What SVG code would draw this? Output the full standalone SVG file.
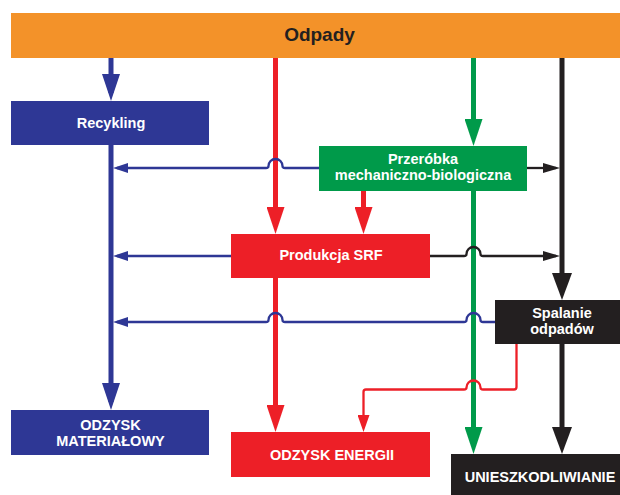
<svg xmlns="http://www.w3.org/2000/svg" width="620" height="495" viewBox="0 0 620 495">
<style>
.box text, text{font-family:"Liberation Sans",Arial,sans-serif;font-weight:bold;text-anchor:middle}
.lbl{font-size:14.5px;fill:#ffffff}
.title{font-size:19px;fill:#231f20}
.thick{fill:none;stroke-width:5;stroke-linecap:butt}
.thin{fill:none;stroke-width:2.3;stroke-linejoin:round}
.b{stroke:#2e3795}.r{stroke:#ed1f27}.g{stroke:#009a4a}.k{stroke:#231f20}
</style>
<defs>
<marker id="bigB" viewBox="0 0 27 18" markerWidth="27" markerHeight="18" refX="19" refY="9" orient="auto" markerUnits="userSpaceOnUse"><path d="M0,0 L27,9 L0,18 z" fill="#2e3795"/></marker>
<marker id="bigR" viewBox="0 0 27 18" markerWidth="27" markerHeight="18" refX="19" refY="9" orient="auto" markerUnits="userSpaceOnUse"><path d="M0,0 L27,9 L0,18 z" fill="#ed1f27"/></marker>
<marker id="bigG" viewBox="0 0 27 18" markerWidth="27" markerHeight="18" refX="19" refY="9" orient="auto" markerUnits="userSpaceOnUse"><path d="M0,0 L27,9 L0,18 z" fill="#009a4a"/></marker>
<marker id="bigK" viewBox="0 0 27 20" markerWidth="27" markerHeight="20" refX="19" refY="10" orient="auto" markerUnits="userSpaceOnUse"><path d="M0,0 L27,10 L0,20 z" fill="#231f20"/></marker>
<marker id="smB" viewBox="0 0 15 10" markerWidth="15" markerHeight="10" refX="11" refY="5" orient="auto" markerUnits="userSpaceOnUse"><path d="M0,0 L15,5 L0,10 z" fill="#2e3795"/></marker>
<marker id="smK" viewBox="0 0 17 10" markerWidth="17" markerHeight="10" refX="13" refY="5" orient="auto" markerUnits="userSpaceOnUse"><path d="M0,0 L17,5 L0,10 z" fill="#231f20"/></marker>
<marker id="smR" viewBox="0 0 17 12" markerWidth="17" markerHeight="12" refX="13" refY="6" orient="auto" markerUnits="userSpaceOnUse"><path d="M0,0 L17,6 L0,12 z" fill="#ed1f27"/></marker>
</defs>

<g id="connectors">
  <!-- vertical flows -->
  <path class="thick b" d="M111,58 V93" marker-end="url(#bigB)"/>
  <path class="thick b" d="M111,145 V402" marker-end="url(#bigB)"/>
  <path class="thick r" d="M275.5,58 V226" marker-end="url(#bigR)"/>
  <path class="thick r" d="M275.5,278 V424" marker-end="url(#bigR)"/>
  <path class="thick r" d="M363.5,191 V226" marker-end="url(#bigR)"/>
  <path class="thick g" d="M473.5,58 V138" marker-end="url(#bigG)"/>
  <path class="thick g" d="M473.5,191 V446" marker-end="url(#bigG)"/>
  <path class="thick k" d="M562,58 V292" marker-end="url(#bigK)"/>
  <path class="thick k" d="M562,344 V446" marker-end="url(#bigK)"/>
  <!-- horizontal flows -->
  <path class="thin b" d="M319,168 H285 Q282.5,168 282.5,166 A7,7 0 0 0 268.5,166 Q268.5,168 266,168 H117" marker-end="url(#smB)"/>
  <path class="thin k" d="M527,168 H556" marker-end="url(#smK)"/>
  <path class="thin b" d="M231,256 H117" marker-end="url(#smB)"/>
  <path class="thin k" d="M430,256 H464 Q466.5,256 466.5,254 A7,7 0 0 1 480.5,254 Q480.5,256 483,256 H556" marker-end="url(#smK)"/>
  <path class="thin b" d="M495,322 H483 Q480.5,322 480.5,320 A7,7 0 0 0 466.5,320 Q466.5,322 464,322 H285 Q282.5,322 282.5,320 A7,7 0 0 0 268.5,320 Q268.5,322 266,322 H117" marker-end="url(#smB)"/>
  <path class="thin r" d="M516.5,344 V387 Q516.5,389.5 514,389.5 H483 Q480.5,389.5 480.5,387.5 A7,7 0 0 0 466.5,387.5 Q466.5,389.5 464,389.5 H366 Q363.5,389.5 363.5,392 V428" marker-end="url(#smR)"/>
</g>

<g id="odpady">
  <rect x="11" y="13" width="609" height="45" fill="#f39229"/>
  <text class="title" x="319.5" y="41">Odpady</text>
</g>
<g id="recykling">
  <rect x="11" y="101" width="198" height="44" fill="#2e3795"/>
  <text class="lbl" x="111" y="127.5">Recykling</text>
</g>
<g id="przerobka">
  <rect x="319" y="146" width="208" height="45" fill="#009a4a"/>
  <text class="lbl" x="423" y="164">Przeróbka</text>
  <text class="lbl" x="423" y="179.5">mechaniczno-biologiczna</text>
</g>
<g id="produkcja">
  <rect x="231" y="234" width="199" height="44" fill="#ed1f27"/>
  <text class="lbl" x="331" y="260">Produkcja SRF</text>
</g>
<g id="spalanie">
  <rect x="495" y="300" width="125" height="44" fill="#231f20"/>
  <text class="lbl" x="562" y="318">Spalanie</text>
  <text class="lbl" x="562" y="333.5">odpadów</text>
</g>
<g id="odzysk-materialowy">
  <rect x="11" y="410" width="198" height="45" fill="#2e3795"/>
  <text class="lbl" x="110.5" y="430">ODZYSK</text>
  <text class="lbl" x="110.5" y="446">MATERIAŁOWY</text>
</g>
<g id="odzysk-energii">
  <rect x="231" y="432" width="199" height="45" fill="#ed1f27"/>
  <text class="lbl" x="332" y="460">ODZYSK ENERGII</text>
</g>
<g id="unieszkodliwianie">
  <rect x="451" y="454" width="169" height="41" fill="#231f20"/>
  <text class="lbl" x="540" y="481.5">UNIESZKODLIWIANIE</text>
</g>
</svg>
